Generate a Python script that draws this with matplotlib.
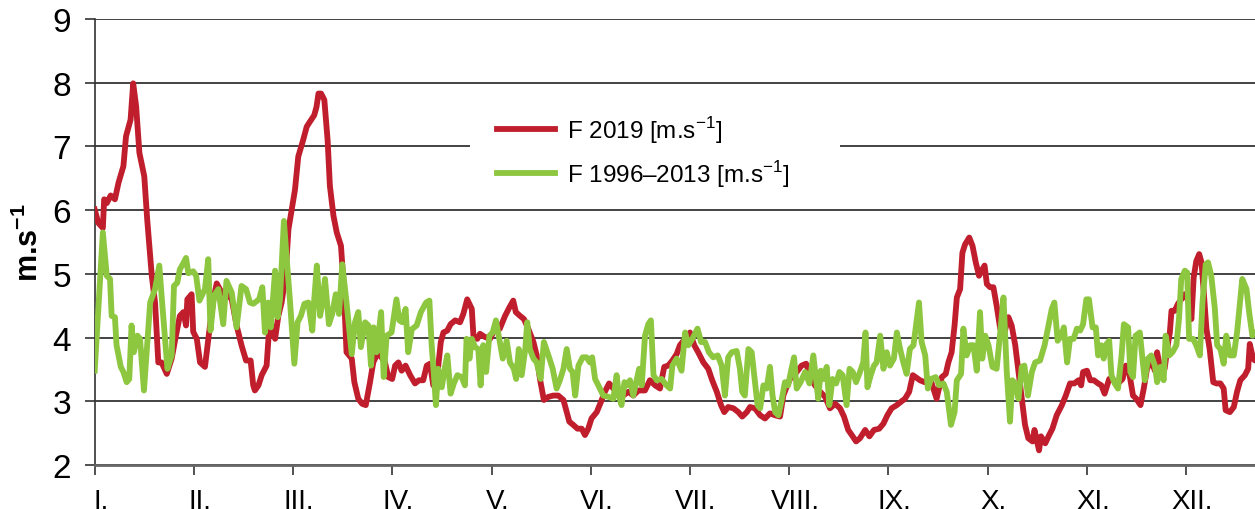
import numpy as np
import matplotlib
matplotlib.use("Agg")
import matplotlib.pyplot as plt
from matplotlib.transforms import ScaledTranslation
from matplotlib.patches import Rectangle

plt.rcParams['font.family'] = ['Liberation Sans', 'DejaVu Sans']
plt.rcParams['mathtext.fontset'] = 'custom'
plt.rcParams['mathtext.rm'] = 'Liberation Sans'
plt.rcParams['mathtext.bf'] = 'Liberation Sans:bold'

# daily wind speed: (day of year, m/s)
red_pts = [
    (0, 6.01), (1.1, 5.8), (2.5, 5.72), (2.9, 6.17), (3.7, 6.11), (4.9, 6.23), (6.2, 6.17), (7.3, 6.43),
    (8.8, 6.69), (9.6, 7.16), (11, 7.42), (11.8, 7.99), (12.7, 7.63), (13.7, 6.9), (15.2, 6.53), (16.1, 5.85),
    (17.5, 4.97), (18.5, 4.55), (19.5, 3.61), (20.5, 3.61), (22.1, 3.43), (23.6, 3.67), (24.9, 4.03), (26.1, 4.34),
    (27.2, 4.4), (28, 4.19), (28.4, 4.6), (29.7, 4.68), (30.2, 4.09), (31.3, 3.98), (32.3, 3.61), (33.8, 3.54),
    (35.1, 4.09), (36.4, 4.6), (37.4, 4.85), (38.9, 4.71), (41, 4.66), (42, 4.6), (43.5, 4.19), (45, 3.88),
    (46.4, 3.64), (47.8, 3.64), (48.6, 3.25),
    (49.1, 3.17), (50.2, 3.25), (51.2, 3.41), (52.7, 3.56), (53.4, 4.08), (54.3, 4.19), (55.3, 3.98), (56.3, 4.34),
    (57.3, 4.55), (58.5, 4.97), (59.4, 5.7), (60.4, 6.01), (61.4, 6.32), (62.4, 6.84), (63.9, 7.1), (65, 7.31),
    (66, 7.39), (67.3, 7.49), (68, 7.62), (68.6, 7.83), (69.4, 7.83), (70.4, 7.73), (71.4, 7.1), (72.1, 6.38),
    (73.2, 5.91), (74.2, 5.65), (75.5, 5.44), (76.2, 4.92), (77.2, 3.77), (78.8, 3.67), (79.6, 3.3), (80.8, 3.04),
    (82, 2.96), (83.1, 2.94), (84.4, 3.3), (85.4, 3.61), (86.4, 3.72), (87.5, 3.72), (89, 3.61), (90, 3.38),
    (91.2, 3.35), (92.1, 3.56), (93.1, 3.61), (94.1, 3.48), (95.3, 3.56), (96.7, 3.41), (98.2, 3.28), (99.4, 3.33),
    (100.7, 3.33), (101.8, 3.56), (102.8, 3.59), (103.8, 3.25), (104.8, 3.3), (106.1, 3.93), (106.9, 4.08),
    (108.1, 4.11), (109.1, 4.21), (110.5, 4.27), (112, 4.24), (113, 4.37), (114.2, 4.6), (115.6, 4.45),
    (116.1, 4.03), (117.3, 3.98), (118.1, 4.06), (119.6, 4.01), (121.2, 3.98), (122.7, 4.14), (124.2, 4.14),
    (125.8, 4.34), (127.1, 4.47), (128.3, 4.58), (129.1, 4.4), (130.4, 4.34), (131.6, 4.29), (132.9, 4.14),
    (134.5, 3.93), (135.5, 3.72), (136.5, 3.35), (137.7, 3.02), (139.1, 3.07), (140.6, 3.09), (142.1, 3.09),
    (143.7, 3.02), (144.7, 2.83), (145.5, 2.68), (146.7, 2.63), (148, 2.57), (149.3, 2.57),
    (150.3, 2.47), (151.3, 2.57), (152.3, 2.73), (153.9, 2.83), (155.2, 2.99), (156.4, 3.15), (157.7, 3.28),
    (159, 3.2), (160.5, 3.2), (162, 3.09), (163.6, 3.15), (165.1, 3.09), (166.7, 3.17), (168.7, 3.17),
    (170.2, 3.33), (171.8, 3.25), (173.3, 3.2), (174.6, 3.54), (175.8, 3.56), (177.1, 3.64), (178.4, 3.74),
    (179.4, 3.88), (181, 3.98), (182.5, 4.08), (183.8, 3.88), (185, 3.77), (186.6, 3.61), (188.1, 3.51),
    (189.3, 3.33), (190.7, 3.15), (192, 2.94), (193, 2.83), (194.2, 2.91), (195.8, 2.89), (197.3, 2.83),
    (198.5, 2.76), (199.9, 2.83),
    (200.9, 2.91), (202.4, 2.89), (204, 2.78), (205.5, 2.73), (207, 2.81), (208.6, 2.78), (210.1, 2.76),
    (211.1, 3.09), (212.3, 3.25), (213.7, 3.41), (215.2, 3.46), (216.7, 3.56), (218.1, 3.59), (219.3, 3.41),
    (220.8, 3.25), (222.4, 3.15), (223.9, 3.07), (225.4, 2.89), (227, 2.96), (228.5, 2.89), (229.7, 2.76),
    (231, 2.55), (232.1, 2.47), (233.4, 2.37), (234.6, 2.42), (236.2, 2.55), (237.5, 2.45), (238.9, 2.55),
    (240.5, 2.57), (241.8, 2.65), (243, 2.78), (244.3, 2.89), (245.9, 2.94), (247.1, 2.99), (248.4, 3.04),
    (249.7, 3.15), (250.8, 3.41),
    (253, 3.33), (254.4, 3.3), (255.6, 3.35), (256.6, 3.28), (257.4, 3.15), (258.1, 3.04), (258.9, 3.22),
    (259.7, 3.38), (260.9, 3.43), (261.7, 3.61), (262.7, 3.77), (263.6, 4.19), (264.3, 4.63), (265.3, 4.76),
    (266, 5.33), (266.8, 5.46), (268.1, 5.57), (269.1, 5.44), (270.1, 5.18), (271.1, 4.97), (271.9, 5.05),
    (272.8, 5.13), (273.5, 4.84), (274.5, 4.79), (275.5, 4.79), (276.5, 4.5), (277.6, 4.14), (278.9, 4.08),
    (280.1, 4.32), (281.1, 4.19), (282.2, 3.88), (283.2, 3.46), (284.2, 3.04), (285.2, 2.63), (286.2, 2.42),
    (287.5, 2.37), (288.1, 2.55), (288.8, 2.39), (289.5, 2.23), (290.1, 2.45), (291.4, 2.34), (292.4, 2.45),
    (293.6, 2.57), (294.9, 2.78), (296.5, 2.94), (297.7, 3.09), (299, 3.28), (300.3, 3.28), (301.6, 3.33),
    (302.4, 3.25),
    (303, 3.46), (304.2, 3.48), (305.2, 3.33), (306.3, 3.33), (307.6, 3.28), (308.6, 3.25), (309.6, 3.12),
    (311, 3.35), (312.4, 3.33), (313.7, 3.28), (315.1, 3.35), (316.1, 3.56), (317.1, 3.46), (318.3, 3.09),
    (319.3, 3.04), (320.6, 2.94), (321.6, 3.2), (322.6, 3.51), (323.9, 3.64), (325, 3.48), (325.7, 3.77),
    (326.7, 3.51), (328, 3.51), (329.1, 3.93), (329.6, 4.08), (330.1, 4.42), (331.1, 4.42), (332.1, 4.53),
    (333.1, 4.6), (334.2, 4.68), (335.2, 4.58), (336.2, 4.29), (336.9, 4.94), (337.7, 5.2), (338.6, 5.31),
    (339.3, 5.18), (340, 4.71), (340.8, 4.14), (341.8, 3.82), (342.9, 3.3), (343.9, 3.28), (345.1, 3.28),
    (346.1, 3.2), (346.7, 2.86), (348, 2.83), (349.2, 2.91), (350.2, 3.15), (351.2, 3.33), (352.6, 3.41),
    (353.6, 3.51), (354.1, 3.9), (355.1, 3.67), (355.7, 3.64), (357, 3.7),
]

green_pts = [
    (0, 3.48), (2.5, 5.65), (3.7, 4.97), (4.7, 4.92), (5.2, 4.34), (6.2, 4.32), (6.7, 3.88), (8, 3.54),
    (8.8, 3.46), (9.8, 3.3), (10.6, 3.35), (11.3, 4.19), (12, 3.77), (13.1, 4.03), (13.9, 3.98), (15.1, 3.17),
    (17, 4.55), (18.5, 4.76), (19.8, 5.13), (20.5, 4.66), (22.3, 3.51), (23.6, 3.72), (24.3, 4.81), (25.3, 4.86),
    (26.1, 5.07), (27.2, 5.17), (28, 5.25), (28.7, 5.01), (30.2, 5.04), (31.1, 4.97), (32.1, 4.58), (33.8, 4.76),
    (34.8, 5.23), (35.5, 4.11), (36.6, 4.66), (37.9, 4.76), (39.4, 4.21), (40.4, 4.89), (42, 4.71), (43.5, 4.16),
    (45, 4.81), (46.4, 4.76), (47.6, 4.55), (48.6, 4.53),
    (50.4, 4.6), (51.4, 4.79), (52.2, 4.08), (53.2, 4.55), (54, 4.16), (55.3, 5.05), (56.1, 4.32), (56.8, 4.6),
    (58, 5.83), (58.8, 5.28), (59.9, 4.55), (61.2, 3.59), (62.2, 4.24), (63.2, 4.34), (64.3, 4.53), (65.5, 4.55),
    (66.7, 4.11), (67.3, 4.6), (68.1, 5.13), (69.1, 4.34), (69.8, 4.55), (70.6, 4.92), (71.8, 4.21), (72.8, 4.37),
    (73.9, 4.68), (74.9, 4.37), (75.9, 5.15), (77.2, 4.55), (78.8, 3.74), (79.8, 4.24), (80.8, 4.4), (81.6, 3.85),
    (82.9, 4.24), (83.9, 4.19), (84.7, 3.56), (85.5, 4.16), (86.4, 3.77), (87.8, 4.4), (88.6, 3.38), (89.5, 4.03),
    (91, 4.08), (92.5, 4.6), (93.4, 4.27), (94.3, 4.24), (95.3, 4.45), (96.1, 3.77), (97.2, 4.13), (98.7, 4.19),
    (100, 4.4),
    (101.6, 4.55), (102.6, 4.58), (103.3, 3.88), (104, 3.41), (104.6, 2.94), (105.3, 3.51), (106.4, 3.22),
    (107.4, 3.54), (108.1, 3.72), (109.1, 3.12), (110.1, 3.28), (111.2, 3.41), (112.5, 3.38), (113.5, 3.25),
    (114, 3.98), (114.9, 3.67), (115.6, 3.98), (116.6, 3.85), (117.6, 3.82), (118.3, 3.25), (119.1, 3.88),
    (120, 3.46), (121, 4.03), (122, 4.08), (123, 4.27), (124, 3.98), (125.1, 3.67), (126.3, 3.95), (127.3, 3.61),
    (128.5, 3.51), (129.2, 3.35), (130, 3.82), (130.9, 3.41), (132, 3.82), (132.6, 4.24), (133.4, 3.82),
    (134.5, 3.67), (135.5, 3.61), (136.7, 3.35), (137.7, 3.93), (139.1, 3.72), (140.4, 3.51), (141.6, 3.2),
    (142.6, 3.33), (143.7, 3.51), (144.7, 3.82), (145.7, 3.51), (146.5, 3.46), (147.3, 3.09), (148.3, 3.56),
    (149.6, 3.69), (150.8, 3.69), (151.8, 3.61),
    (152.5, 3.69), (153.4, 3.35), (154.4, 3.25), (155.9, 3.09), (157.5, 3.07), (159, 3.04), (160, 3.41),
    (160.7, 3.09), (161.5, 2.94), (162.4, 3.3), (163.1, 3.25), (164.1, 3.33), (165.1, 3.09), (165.8, 3.25),
    (166.9, 3.51), (167.7, 3.25), (168.7, 4.03), (169.7, 4.21), (170.5, 4.27), (171.3, 3.41), (172.3, 3.33),
    (173.8, 3.35), (175.3, 3.25), (176.4, 3.2), (177.1, 3.56), (178.4, 3.67), (179.9, 3.48), (181, 4.08),
    (182, 3.88), (183.2, 3.98), (184.8, 4.14), (185.9, 3.93), (187.1, 3.93), (188.3, 3.77), (189.6, 3.69),
    (191, 3.72), (192.2, 3.56), (193.2, 3.09), (194.2, 3.69), (195.3, 3.77), (196.8, 3.79), (197.8, 3.51),
    (198.5, 3.15), (199.3, 3.09), (200.4, 3.82), (201.4, 3.77),
    (203.2, 2.94), (204, 2.89), (205, 3.25), (206, 3.2), (207, 3.54), (207.8, 3.09), (208.6, 2.83), (209.6, 2.78),
    (210.6, 3.02), (211.6, 3.3), (212.6, 3.25), (213.4, 3.46), (214.4, 3.69), (215.2, 3.2), (216.4, 3.3),
    (217.8, 3.46), (219.1, 3.28), (220.3, 3.72), (221.1, 3.35), (221.8, 3.04), (222.6, 3.48), (223.4, 3.35),
    (224.4, 3.54), (225.2, 2.94), (226.2, 3.35), (227.3, 3.28), (228.3, 3.46), (229.3, 3.41), (230.5, 2.94),
    (231.4, 3.51), (232.4, 3.46), (233.4, 3.3), (234.6, 3.46), (235.6, 3.61), (236.3, 4.08), (236.9, 3.22),
    (237.9, 3.41), (238.9, 3.56), (239.7, 3.61), (240.8, 4.03), (241.8, 3.51), (242.8, 3.77), (243.8, 3.56),
    (245, 3.67), (245.9, 4.08), (246.9, 3.82), (247.9, 3.61), (248.9, 3.43), (249.9, 3.82), (251, 3.88),
    (252.7, 4.55), (253.5, 3.93), (254.6, 3.72), (255.4, 3.2), (256.4, 3.35), (257.8, 3.38), (258.9, 3.25),
    (260.2, 3.28), (261.2, 3.15), (262.5, 2.63), (263.6, 2.83), (264.3, 3.33), (265.6, 3.43), (266.3, 4.14),
    (267.3, 3.72), (268.4, 3.88), (269.4, 3.88), (270.4, 3.48), (271.4, 4.4), (272.1, 3.67), (273, 4.03),
    (274, 3.88), (275.2, 3.54), (276.5, 3.51), (277.6, 4.08), (278.6, 4.63), (279.6, 3.46), (280.6, 2.68),
    (281.3, 3.33), (282.2, 3.28), (283.2, 3.04), (284.2, 3.54), (285, 3.56), (286.1, 3.09), (287.3, 3.46),
    (288.3, 3.61), (289.8, 3.64), (291.2, 3.88), (292.4, 4.19), (293.4, 4.45), (294.2, 4.55), (295.2, 3.95),
    (296.3, 4.03), (297.1, 4.16), (298.1, 3.61), (299, 3.98), (300.1, 3.98), (301.1, 4.14), (302.1, 4.11),
    (303, 4.21), (304, 4.6), (304.8, 4.6), (305.9, 4.16), (306.9, 4.16), (307.6, 3.72), (308.6, 3.88),
    (309.3, 3.67), (310.2, 3.9), (311, 3.95), (311.7, 3.41), (312.7, 3.28), (313.7, 3.2), (314.8, 3.72),
    (315.5, 4.21), (316.8, 4.16), (317.5, 3.46), (318.3, 3.38), (319.1, 4.03), (320.4, 4.08), (321.2, 3.67),
    (321.9, 3.33), (322.9, 3.67), (323.9, 3.72), (325, 3.56), (325.7, 3.3), (326.7, 3.54), (327.7, 3.33),
    (328.3, 4.03), (329.4, 3.72), (330.4, 3.77), (331.6, 3.88), (332.4, 4.29), (333.1, 4.92), (334.2, 5.05),
    (334.9, 5.02), (335.5, 3.98), (336.7, 3.98), (337.7, 3.88), (338.8, 3.72), (339.6, 4.55), (340.6, 5.15),
    (341.3, 5.18), (342.3, 4.97), (343.4, 4.45), (344.1, 3.88), (345.1, 3.82), (346.1, 3.59), (346.9, 4.03),
    (348, 3.72), (349.2, 3.72), (350.2, 4.08), (351, 4.5), (351.8, 4.92), (353.1, 4.76), (353.9, 4.4),
    (354.9, 4.03), (355.7, 4.08), (357, 4.05),
]

months = ['I.', 'II.', 'III.', 'IV.', 'V.', 'VI.', 'VII.', 'VIII.', 'IX.', 'X.', 'XI.', 'XII.']
y_ticks = [2, 3, 4, 5, 6, 7, 8, 9]

red_x, red_y = np.array(red_pts).T
green_x, green_y = np.array(green_pts).T

fig = plt.figure(figsize=(12.55, 5.1), dpi=100)
# axes run a bit past the right edge of the picture, as in the cropped original
ax = fig.add_axes([94.7 / 1255, 44 / 510, 365 * 3.262 / 1255, 446 / 510])

ax.plot(red_x, red_y, color='#C01E2D', lw=4.2, solid_joinstyle='round', label='F 2019 [m.s$^{-1}$]', zorder=3)
ax.plot(green_x, green_y, color='#8DC63F', lw=4.2, solid_joinstyle='round', label='F 1996–2013 [m.s$^{-1}$]', zorder=4)

ax.set_xlim(0, 365)
ax.set_ylim(2, 9)
ax.set_yticks(y_ticks)
ax.set_xticks(np.arange(12) * 365 / 12)
ax.set_xticklabels(months)
ax.grid(axis='y', color='#222222', lw=1.2)
ax.set_axisbelow(True)

# white block behind the legend breaks the gridline, like the original
ax.add_patch(Rectangle((470 / 1255, 1 - 198 / 510), 370 / 1255, 100 / 510, transform=fig.transFigure,
                       facecolor='white', edgecolor='none', zorder=2))

for s in ['top', 'right']:
    ax.spines[s].set_visible(False)
ax.spines['left'].set_color('#333333')
ax.spines['left'].set_linewidth(1.2)
ax.spines['bottom'].set_color('#666666')
ax.spines['bottom'].set_linewidth(2)

ax.tick_params(axis='y', labelsize=24, length=7, width=1.2, color='#333333', pad=10)
ax.tick_params(axis='x', labelsize=20, length=7, width=1.2, color='#333333', pad=9.5)
offset = ScaledTranslation(6 / 100, 0, fig.dpi_scale_trans)
for lab in ax.get_xticklabels():
    lab.set_transform(lab.get_transform() + offset)

ax.set_ylabel('m.s$^{\\mathbf{-1}}$', fontsize=22, fontweight='bold')
ax.yaxis.set_label_coords(-0.0415, 0.5)

leg = ax.legend(loc='upper left', bbox_to_anchor=(470 / 1255, 1 - 88 / 510), bbox_transform=fig.transFigure,
                fontsize=17.5, frameon=False, handlelength=2.4, handletextpad=0.5, labelspacing=0.55,
                borderpad=1.1, borderaxespad=0)
leg.set_zorder(5)

fig.savefig('out.png', dpi=100)
